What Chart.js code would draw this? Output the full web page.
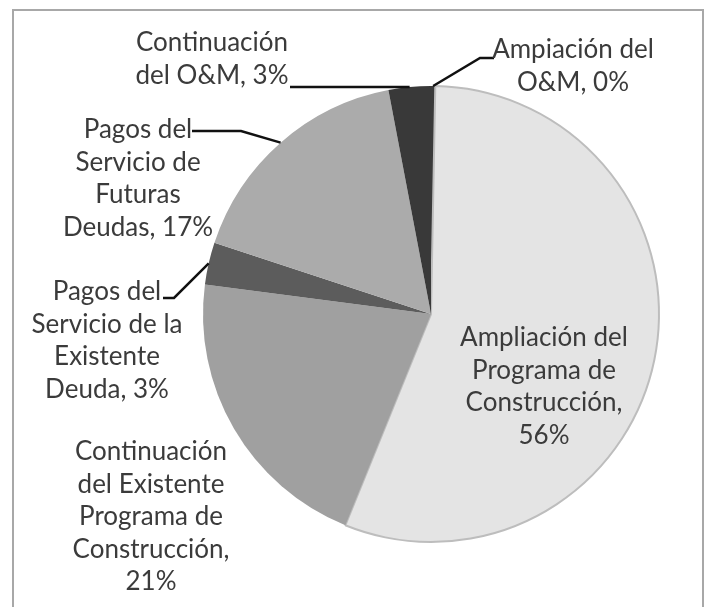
<!DOCTYPE html>
<html>
<head>
<meta charset="utf-8">
<script src="https://cdn.jsdelivr.net/npm/chart.js@4.4.0/dist/chart.umd.min.js"></script>
<style>
html, body { margin: 0; padding: 0; background: #fff; width: 704px; height: 607px; overflow: hidden; }
#marco { position: absolute; left: 12px; top: 9px; width: 688px; height: 660px; border: 2px solid #a8a8a8; }
#lienzo { position: absolute; left: 0; top: 0; }
</style>
</head>
<body>
<div id="marco"></div>
<canvas id="lienzo" width="704" height="607"></canvas>
<script>
// datos (orden de las porciones, desde las 12 en sentido horario)
var categorias = [
  "Ampiación del O&M",
  "Ampliación del Programa de Construcción",
  "Continuación del Existente Programa de Construcción",
  "Pagos del Servicio de la Existente Deuda",
  "Pagos del Servicio de Futuras Deudas",
  "Continuación del O&M"
];
var valores = [0.3, 56, 21, 3, 17, 3];

// como se parte cada etiqueta en lineas; {p} = porcentaje
var lineasEtiqueta = [
  ["Ampiación del", "O&M, {p}"],
  ["Ampliación del", "Programa de", "Construcción,", "{p}"],
  ["Continuación", "del Existente", "Programa de", "Construcción,", "{p}"],
  ["Pagos del", "Servicio de la", "Existente", "Deuda, {p}"],
  ["Pagos del", "Servicio de", "Futuras", "Deudas, {p}"],
  ["Continuación", "del O&M, {p}"]
];

var colores = ["#3a3a3a", "#e4e4e4", "#a0a0a0", "#5c5c5c", "#ababab", "#393939"];

// posicion de las etiquetas (centro de la primera linea) y codos de las lineas guia
var posEtiqueta = [[573, 50], [544, 338], [151, 452], [107, 292], [138, 130], [212, 43]];
var guias = [
  [[480, 58], [494, 58]],
  null,
  null,
  [[174, 298], [163, 298]],
  [[241, 131], [192, 131]],
  [[290, 87]]
];

var altoLinea = 32.5;
var fuente = "26px Lato";

var etiquetasPlugin = {
  id: 'etiquetas',
  afterDatasetsDraw: function(chart) {
    var ctx = chart.ctx;
    var meta = chart.getDatasetMeta(0);
    var total = valores.reduce(function(a, b) { return a + b; }, 0);
    ctx.save();
    meta.data.forEach(function(arc, i) {
      var p = arc.getProps(['x', 'y', 'startAngle', 'endAngle', 'outerRadius'], true);
      var mid = (p.startAngle + p.endAngle) / 2;
      var px = p.x + Math.cos(mid) * p.outerRadius;
      var py = p.y + Math.sin(mid) * p.outerRadius;
      if (guias[i]) {
        ctx.beginPath();
        ctx.moveTo(px, py);
        guias[i].forEach(function(g) { ctx.lineTo(g[0], g[1]); });
        ctx.strokeStyle = "#111";
        ctx.lineWidth = 2.5;
        ctx.stroke();
      }
      var pct = Math.round(valores[i] / total * 100) + "%";
      ctx.font = fuente;
      ctx.fillStyle = "#3b3b3b";
      ctx.textAlign = "center";
      ctx.textBaseline = "middle";
      lineasEtiqueta[i].forEach(function(l, k) {
        ctx.fillText(l.replace("{p}", pct), posEtiqueta[i][0], posEtiqueta[i][1] + k * altoLinea);
      });
    });
    ctx.restore();
  }
};

var ctx = document.getElementById("lienzo").getContext('2d');
var myPieChart = new Chart(ctx, {
  type: 'pie',
  data: {
    labels: categorias,
    datasets: [{
      data: valores,
      backgroundColor: colores,
      borderColor: "#bdbdbd",
      borderWidth: [0, 2, 0, 0, 0, 0]
    }]
  },
  options: {
    responsive: false,
    animation: false,
    events: [],
    layout: {
      padding: { left: 202, right: 44, top: 85, bottom: 64 }
    },
    plugins: {
      legend: { display: false },
      tooltip: { enabled: false }
    }
  },
  plugins: [etiquetasPlugin]
});
</script>
</body>
</html>
